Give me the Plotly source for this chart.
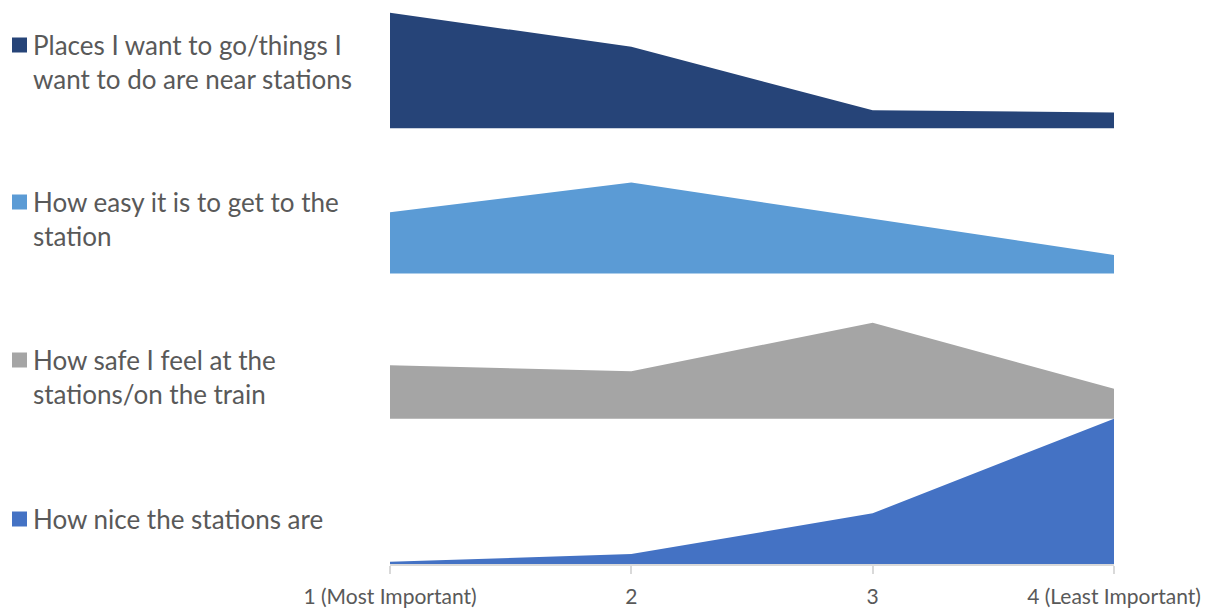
import plotly.graph_objects as go

# Rank categories (1 = most important)
categories = ["1 (Most Important)", "2", "3", "4 (Least Important)"]

# Share of respondents (%) giving each factor each rank
series_names = [
    "Places I want to go/things I<br>want to do are near stations",
    "How easy it is to get to the<br>station",
    "How safe I feel at the<br>stations/on the train",
    "How nice the stations are",
]
places_near = [50.1, 35.3, 7.8, 6.8]
easy_access = [26.5, 39.4, 23.7, 8.0]
feel_safe = [23.2, 20.6, 41.6, 13.0]
nice_stations = [1.0, 4.3, 22.0, 63.0]

series_values = [places_near, easy_access, feel_safe, nice_stations]
colors = ["#264478", "#5B9BD5", "#A5A5A5", "#4472C4"]

W, H = 1223, 608
plot_left, plot_right, plot_bottom = 390, 1114, 564
band = max(max(v) for v in series_values)   # height of each ridge band
y_top = 244.6                                # axis range top (data units)

fig = go.Figure()
n = len(series_values)
for i, (vals, col) in enumerate(zip(series_values, colors)):
    base = (n - 1 - i) * band
    xs = categories + categories[::-1]
    ys = [base + v for v in vals] + [base] * len(vals)
    fig.add_trace(go.Scatter(
        x=xs, y=ys, fill="toself", mode="lines",
        line=dict(width=0, color=col), fillcolor=col,
        showlegend=False, hoverinfo="skip",
    ))

# Legend entries drawn as swatches + text, one per ridge
legend_y_px = [45, 202, 360, 519]
shapes = []
annotations = []
for name, col, ypx in zip(series_names, colors, legend_y_px):
    shapes.append(dict(
        type="rect", xref="paper", yref="paper",
        x0=12 / W, x1=27 / W,
        y0=(plot_bottom - (ypx + 7.5)) / plot_bottom,
        y1=(plot_bottom - (ypx - 7.5)) / plot_bottom,
        fillcolor=col, line=dict(width=0),
    ))
    annotations.append(dict(
        xref="paper", yref="paper", x=31 / W,
        y=(plot_bottom - (ypx - 18)) / plot_bottom,
        xanchor="left", yanchor="top", align="left",
        text=name, showarrow=False,
        font=dict(family="Lato", size=26, color="#595959"),
    ))

fig.update_layout(
    width=W, height=H,
    margin=dict(l=0, r=0, t=0, b=H - plot_bottom, autoexpand=False),
    paper_bgcolor="white", plot_bgcolor="white",
    shapes=shapes, annotations=annotations,
    xaxis=dict(
        type="category", categoryorder="array", categoryarray=categories,
        domain=[plot_left / W, plot_right / W], range=[0, 3],
        automargin=False,
        showgrid=False, zeroline=False,
        showline=True, linecolor="#D9D9D9", linewidth=1.5,
        ticks="outside", ticklen=8, tickcolor="#D9D9D9", tickwidth=1.5,
        tickfont=dict(family="Lato", size=21, color="#595959"),
        ticklabelstandoff=5,
    ),
    yaxis=dict(
        range=[0, y_top], visible=False, showgrid=False, zeroline=False,
        automargin=False,
    ),
)

fig.write_html("out.html")
